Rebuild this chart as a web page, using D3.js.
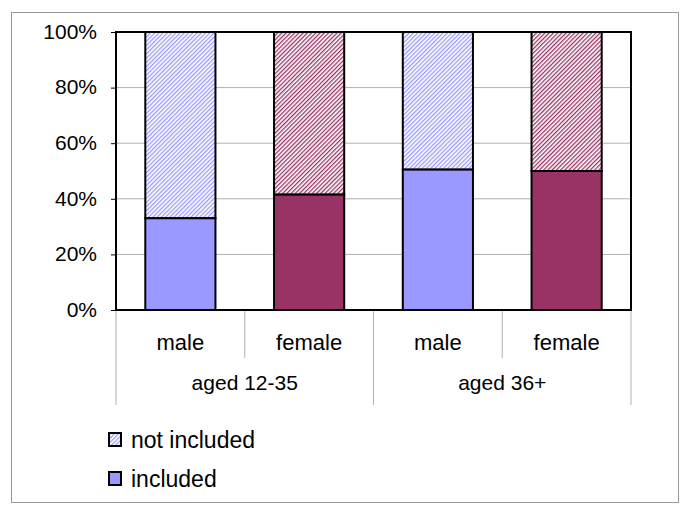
<!DOCTYPE html>
<html><head><meta charset="utf-8">
<script src="https://cdn.jsdelivr.net/npm/d3@7"></script>
<style>body{margin:0;background:#fff}svg{display:block}text{font-family:"Liberation Sans",Arial,sans-serif;fill:#000}</style>
</head><body>
<svg id="c" width="685" height="513"></svg>
<script>
const groups = ["aged 12-35", "aged 36+"];
const sexes = ["male", "female"];
const included = [33, 41.5, 50.5, 50];
const yTicks = [0, 20, 40, 60, 80, 100];
const seriesNames = ["not included", "included"];
const colors = {male: "#9999ff", female: "#993366"};

const svg = d3.select("#c");
svg.append("rect").attr("x",11.5).attr("y",12.5).attr("width",667).attr("height",490)
  .attr("fill","none").attr("stroke","#999").attr("stroke-width",1);

const defs = svg.append("defs");
function pat(id, col){
  const p = defs.append("pattern").attr("id",id).attr("patternUnits","userSpaceOnUse")
    .attr("width",3).attr("height",3).attr("patternTransform","rotate(45)");
  p.append("rect").attr("width",3).attr("height",3).attr("fill","#fff");
  p.append("rect").attr("x",0).attr("y",0).attr("width",1.3).attr("height",3).attr("fill",col);
}
pat("pm", colors.male);
pat("pf", colors.female);

const L=116, R=631, T=32, B=310;
const cats = [];
groups.forEach(g=>sexes.forEach(s=>cats.push({g,s})));
const x = d3.scaleBand().domain(d3.range(cats.length)).range([L,R]).paddingInner(0.455).paddingOuter(0.2275);
const y = d3.scaleLinear().domain([0,100]).range([B,T]);

// grid
svg.append("g").selectAll("line").data(yTicks.filter(t=>t>0&&t<100)).join("line")
  .attr("x1",L).attr("x2",R).attr("y1",d=>y(d)).attr("y2",d=>y(d))
  .attr("stroke","#b0b0b0").attr("stroke-width",1);

// y axis
const ya = svg.append("g").attr("transform",`translate(${L},0)`)
  .call(d3.axisLeft(y).tickValues(yTicks).tickFormat(d=>d+"%").tickSize(5).tickPadding(14));
ya.select(".domain").remove();
ya.selectAll("line").attr("stroke","#000");
ya.selectAll("text").style("font-size","21px").style("font-family","Liberation Sans, Arial, sans-serif").attr("dy","0.3em");

// bars
const bars = svg.append("g");
cats.forEach((c,i)=>{
  const v = included[i];
  const pid = c.s==="male"?"url(#pm)":"url(#pf)";
  bars.append("rect").attr("x",x(i)).attr("width",x.bandwidth())
    .attr("y",y(100)).attr("height",y(v)-y(100))
    .attr("fill",pid).attr("stroke","#000").attr("stroke-width",2);
  bars.append("rect").attr("x",x(i)).attr("width",x.bandwidth())
    .attr("y",y(v)).attr("height",y(0)-y(v))
    .attr("fill",colors[c.s]).attr("stroke","#000").attr("stroke-width",2);
});

// plot frame
svg.append("rect").attr("x",L).attr("y",T).attr("width",R-L).attr("height",B-T)
  .attr("fill","none").attr("stroke","#000").attr("stroke-width",2);

// category axis
const step = (R-L)/cats.length;
const sep = svg.append("g");
for(let i=0;i<=cats.length;i++){
  const xx = L + i*step;
  const long = i%2===0;
  sep.append("line").attr("x1",xx).attr("x2",xx).attr("y1",B+1).attr("y2",long?405:358)
    .attr("stroke","#b0b0b0").attr("stroke-width",1);
}
svg.append("g").selectAll("text").data(cats).join("text")
  .attr("x",(d,i)=>x(i)+x.bandwidth()/2).attr("y",350).attr("text-anchor","middle")
  .style("font-size","22px").text(d=>d.s);
svg.append("g").selectAll("text").data(groups).join("text")
  .attr("x",(d,i)=>L + step*(2*i+1)).attr("y",390).attr("text-anchor","middle")
  .style("font-size","21px").text(d=>d);

// legend
const lg = svg.append("g");
const lfills = ["url(#pm)", colors.male];
seriesNames.forEach((n,i)=>{
  const yy = 433 + i*39;
  lg.append("rect").attr("x",109).attr("y",yy).attr("width",12).attr("height",13)
    .attr("fill",lfills[i]).attr("stroke","#000").attr("stroke-width",2);
  lg.append("text").attr("x",131).attr("y",yy+15).style("font-size","23px").text(n);
});
</script>
</body></html>
